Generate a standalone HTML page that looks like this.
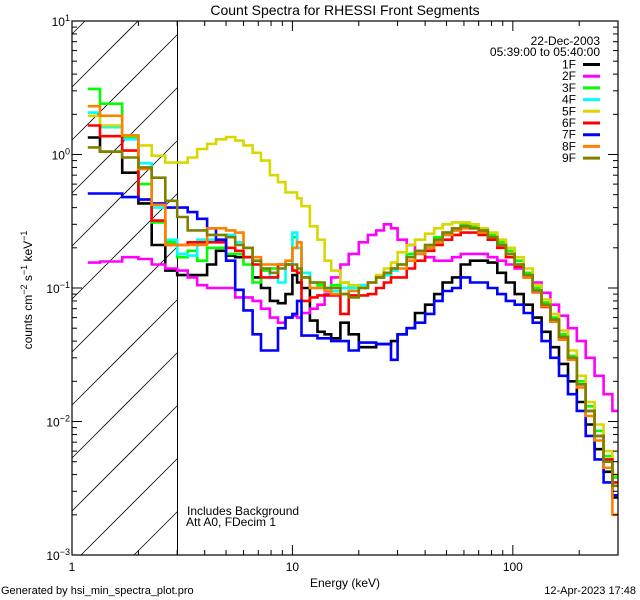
<!DOCTYPE html>
<html><head><meta charset="utf-8"><style>
html,body{margin:0;padding:0;background:#fff;width:640px;height:600px;overflow:hidden;}
svg{display:block;font-family:"Liberation Sans",sans-serif;}
</style></head><body>
<svg id="chart" width="640" height="600" viewBox="0 0 640 600" xmlns="http://www.w3.org/2000/svg" overflow="hidden">
<rect width="640" height="600" fill="#fff"/>
<text x="345" y="15" font-size="14" text-anchor="middle">Count Spectra for RHESSI Front Segments</text>
<g id="hatch"></g>
<g id="series"></g>
<g id="axes"></g>
<g id="legend"></g>
<text x="345" y="587" font-size="12" text-anchor="middle">Energy (keV)</text>
<text transform="translate(32,290) rotate(-90)" font-size="12" text-anchor="middle">counts cm<tspan dy="-5" font-size="9">−2</tspan><tspan dy="5"> s</tspan><tspan dy="-5" font-size="9">−1</tspan><tspan dy="5"> keV</tspan><tspan dy="-5" font-size="9">−1</tspan></text>
<text x="187" y="515" font-size="12">Includes Background</text>
<text x="186" y="526" font-size="12">Att A0, FDecim 1</text>
<text x="1" y="594" font-size="11">Generated by hsi_min_spectra_plot.pro</text>
<text x="636" y="594" font-size="11" text-anchor="end">12-Apr-2023 17:48</text>
</svg>
<script>
const energies=[1.18,1.34,1.69,2.0,2.3,2.65,3.0,3.35,3.7,4.1,4.5,5.0,5.5,6,6.6,7.2,7.9,8.6,9.3,10,10.5,11,12,13,14,15,16.5,18,20,22,24,26,28,30,33,36,40,44,48,53,58,64,70,77,85,93,102,112,123,135,148,162,178,195,214,235,258,283];
const energyEnd=300;
const s1F=[1.34,1.05,0.73,0.43,0.21,0.135,0.125,0.125,0.125,0.15,0.19,0.175,0.17,0.17,0.12,0.1,0.08,0.077,0.09,0.125,0.11,0.1,0.057,0.047,0.045,0.042,0.055,0.045,0.036,0.036,0.038,0.038,0.04,0.045,0.05,0.065,0.075,0.09,0.11,0.12,0.15,0.16,0.16,0.155,0.13,0.11,0.09,0.075,0.06,0.047,0.036,0.027,0.02,0.014,0.0095,0.0062,0.0042,0.0027];
const s2F=[0.155,0.158,0.17,0.165,0.15,0.14,0.135,0.12,0.105,0.1,0.1,0.1,0.085,0.085,0.08,0.07,0.06,0.055,0.06,0.062,0.06,0.065,0.07,0.075,0.09,0.12,0.15,0.18,0.22,0.25,0.27,0.3,0.28,0.23,0.21,0.19,0.17,0.16,0.16,0.17,0.18,0.18,0.18,0.17,0.16,0.15,0.14,0.125,0.11,0.092,0.075,0.062,0.05,0.04,0.03,0.022,0.016,0.012];
const s3F=[3.1,2.4,1.35,0.6,0.31,0.22,0.17,0.19,0.16,0.2,0.2,0.18,0.18,0.15,0.11,0.135,0.14,0.15,0.15,0.24,0.2,0.13,0.11,0.105,0.1,0.105,0.11,0.1,0.105,0.11,0.12,0.125,0.14,0.15,0.18,0.19,0.21,0.24,0.26,0.28,0.3,0.29,0.28,0.25,0.22,0.19,0.16,0.13,0.1,0.078,0.06,0.045,0.031,0.02,0.013,0.0085,0.0055,0.0038];
const s4F=[2.06,1.6,1.3,0.86,0.4,0.23,0.18,0.175,0.23,0.23,0.23,0.25,0.22,0.2,0.15,0.14,0.12,0.11,0.15,0.26,0.2,0.13,0.1,0.1,0.1,0.095,0.1,0.1,0.105,0.11,0.12,0.125,0.135,0.15,0.17,0.18,0.2,0.23,0.25,0.27,0.29,0.28,0.27,0.24,0.21,0.18,0.15,0.125,0.096,0.075,0.058,0.043,0.03,0.019,0.012,0.0078,0.005,0.0028];
const s5F=[1.95,1.65,1.38,1.17,0.98,0.87,0.87,0.95,1.1,1.2,1.3,1.35,1.27,1.17,1.03,0.9,0.7,0.62,0.52,0.52,0.47,0.41,0.29,0.23,0.16,0.135,0.11,0.105,0.1,0.11,0.125,0.14,0.155,0.185,0.21,0.23,0.255,0.28,0.3,0.31,0.31,0.3,0.28,0.26,0.23,0.2,0.17,0.14,0.105,0.082,0.064,0.048,0.034,0.022,0.014,0.0095,0.006,0.004];
const s6F=[1.65,1.37,1.07,0.46,0.32,0.21,0.21,0.22,0.22,0.22,0.22,0.2,0.19,0.17,0.15,0.12,0.12,0.15,0.15,0.135,0.13,0.08,0.085,0.088,0.088,0.088,0.064,0.088,0.088,0.09,0.1,0.11,0.12,0.12,0.14,0.16,0.19,0.21,0.23,0.25,0.26,0.26,0.25,0.23,0.2,0.17,0.145,0.12,0.093,0.072,0.056,0.042,0.03,0.019,0.012,0.0078,0.0052,0.0035];
const s7F=[0.51,0.51,0.48,0.46,0.43,0.4,0.4,0.37,0.33,0.28,0.23,0.16,0.097,0.068,0.045,0.034,0.034,0.05,0.06,0.064,0.08,0.044,0.044,0.042,0.042,0.04,0.04,0.034,0.039,0.039,0.038,0.038,0.029,0.045,0.05,0.055,0.064,0.08,0.095,0.1,0.12,0.11,0.11,0.1,0.09,0.08,0.075,0.065,0.055,0.04,0.03,0.022,0.016,0.012,0.0078,0.0052,0.0035,0.0028];
const s8F=[2.3,1.95,1.39,0.78,0.42,0.21,0.21,0.21,0.21,0.28,0.28,0.27,0.26,0.2,0.17,0.15,0.15,0.15,0.16,0.2,0.22,0.12,0.1,0.1,0.095,0.09,0.09,0.095,0.1,0.11,0.12,0.13,0.14,0.14,0.16,0.18,0.2,0.22,0.25,0.27,0.28,0.28,0.26,0.24,0.21,0.18,0.15,0.12,0.094,0.073,0.056,0.041,0.029,0.018,0.011,0.0072,0.0045,0.002];
const s9F=[1.13,1.05,0.95,0.8,0.67,0.45,0.34,0.27,0.27,0.25,0.25,0.24,0.21,0.2,0.16,0.14,0.13,0.14,0.15,0.15,0.14,0.12,0.11,0.11,0.1,0.1,0.09,0.085,0.1,0.11,0.12,0.13,0.14,0.15,0.17,0.19,0.21,0.23,0.26,0.28,0.29,0.28,0.27,0.24,0.21,0.18,0.15,0.125,0.096,0.075,0.058,0.043,0.03,0.019,0.012,0.0078,0.005,0.0033];
const seriesNames=["1F","2F","3F","4F","5F","6F","7F","8F","9F"];
const seriesColors=["#000000","#ff00ff","#00ff00","#00ffff","#d8d800","#ff0000","#0000ff","#ff8000","#808000"];
const seriesData=[s1F,s2F,s3F,s4F,s5F,s6F,s7F,s8F,s9F];
const xTickValues=[1,10,100];
const xTickLabels=["1","10","100"];
const yTickExps=[1,0,-1,-2,-3];
const hatchEnergy=3;

const NS="http://www.w3.org/2000/svg";
const L=72,R=618,T=21,B=555;
const XMIN=1,XMAX=300,YMIN=1e-3,YMAX=10;
function xs(e){return L+(R-L)*Math.log10(e/XMIN)/Math.log10(XMAX/XMIN);}
function ys(v){return B-(B-T)*Math.log10(v/YMIN)/Math.log10(YMAX/YMIN);}
function mk(tag,attrs,parent){const el=document.createElementNS(NS,tag);for(const k in attrs)el.setAttribute(k,attrs[k]);parent.appendChild(el);return el;}

const defs=mk('defs',{},document.getElementById('chart'));
const cp=mk('clipPath',{id:'plotclip'},defs);
mk('rect',{x:L,y:T,width:R-L,height:B-T},cp);

const hatch=document.getElementById('hatch');
const hx=Math.round(xs(hatchEnergy))+0.5;
for(let c=159-53*3;c<B+hx;c+=53){
  const xa=Math.max(L,c-B), xb=Math.min(hx,c-T);
  if(xb<=xa)continue;
  const ln=mk('line',{x1:xa,y1:c-xa,x2:xb,y2:c-xb,stroke:'#000','stroke-width':0.8},hatch);
  
  
}
const hl=mk('line',{x1:hx,y1:T,x2:hx,y2:B,stroke:'#000','stroke-width':1},hatch);



const sg=document.getElementById('series');
sg.setAttribute('clip-path','url(#plotclip)');
seriesData.forEach((vals,si)=>{
  let d='';
  for(let i=0;i<vals.length;i++){
    const x0=xs(energies[i]);
    const x1=xs(i+1<energies.length?energies[i+1]:energyEnd);
    const y=ys(vals[i]);
    d+=(i===0?'M':'L')+x0.toFixed(1)+','+y.toFixed(1)+'L'+x1.toFixed(1)+','+y.toFixed(1);
  }
  const p=mk('path',{d:d,fill:'none',stroke:seriesColors[si],'stroke-width':2.6,'stroke-linejoin':'miter'},sg);
  
  
});

const ax=document.getElementById('axes');
const frame=mk('rect',{x:L,y:T,width:R-L,height:B-T,fill:'none',stroke:'#000','stroke-width':1.2},ax);


for(let dec=0;dec<3;dec++){
  for(let m=1;m<10;m++){
    const e=m*Math.pow(10,dec);
    if(e>XMAX)break;
    const x=xs(e);const len=m===1?10:5;
    mk('line',{x1:x,y1:B,x2:x,y2:B-len,stroke:'#000'},ax);
    mk('line',{x1:x,y1:T,x2:x,y2:T+len,stroke:'#000'},ax);
  }
}
xTickValues.forEach((v,i)=>{
  const t=mk('text',{x:xs(v),y:B+16,'font-size':12,'text-anchor':'middle'},ax);
  t.textContent=xTickLabels[i];
  
  
});
for(let ex=-3;ex<1;ex++){
  for(let m=1;m<10;m++){
    const v=m*Math.pow(10,ex);const y=ys(v);const len=m===1?10:5;
    mk('line',{x1:L,y1:y,x2:L+len,y2:y,stroke:'#000'},ax);
    mk('line',{x1:R,y1:y,x2:R-len,y2:y,stroke:'#000'},ax);
  }
}
yTickExps.forEach(ex=>{
  const y=ys(Math.pow(10,ex));
  const t=mk('text',{x:L-2,y:y+5,'font-size':12,'text-anchor':'end'},ax);
  
  
  const a=mk('tspan',{},t);a.textContent='10';
  const b=mk('tspan',{dy:-5,'font-size':9},t);b.textContent=ex<0?'−'+(-ex):String(ex);
});

const lg=document.getElementById('legend');
const lt1=mk('text',{x:600,y:45,'font-size':12,'text-anchor':'end'},lg);lt1.textContent='22-Dec-2003';


const lt2=mk('text',{x:600,y:56,'font-size':12,'text-anchor':'end'},lg);lt2.textContent='05:39:00 to 05:40:00';


seriesNames.forEach((n,i)=>{
  const y=64.5+i*11.7;
  const g=mk('g',{},lg);
  
  
  const t=mk('text',{x:576,y:y+4,'font-size':12,'text-anchor':'end'},g);t.textContent=n;
  mk('line',{x1:583,y1:y,x2:600,y2:y,stroke:seriesColors[i],'stroke-width':3},g);
});
</script>
</body></html>
